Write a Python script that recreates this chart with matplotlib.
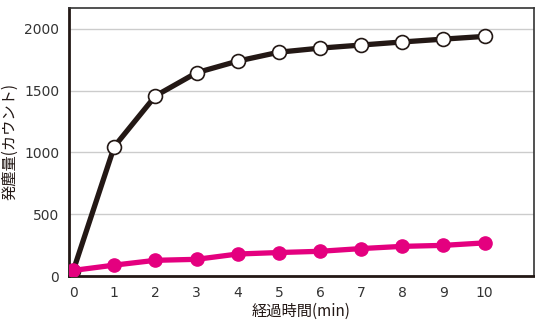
import matplotlib
matplotlib.use('Agg')
import matplotlib.pyplot as plt

plt.rcParams['font.family'] = ['Noto Sans CJK JP', 'DejaVu Sans']

# elapsed minutes and dust counts
minutes = [0, 1, 2, 3, 4, 5, 6, 7, 8, 9, 10]
black_counts = [40, 1048, 1458, 1646, 1740, 1812, 1845, 1870, 1895, 1918, 1940]
pink_counts = [45, 88, 127, 135, 178, 190, 200, 222, 240, 248, 268]
y_ticks = [0, 500, 1000, 1500, 2000]

fig = plt.figure(figsize=(5.35, 3.2), dpi=100)
ax = fig.add_axes([0.129, 0.1375, 0.869, 0.8375])

ax.plot(minutes, black_counts, color='#231815', lw=3.8, marker='o', ms=10,
        mfc='white', mec='#231815', mew=1.2, zorder=3)
ax.plot(minutes, pink_counts, color='#E4007F', lw=3.8, marker='o', ms=9.5,
        mfc='#E4007F', mec='#E4007F', zorder=4)

ax.set_xlim(-0.1, 11.2)
ax.set_ylim(0, 2170)
ax.set_xticks(minutes)
ax.set_yticks(y_ticks)
ax.tick_params(length=0, labelsize=10, colors='#333333', pad=7)
for lab in ax.get_xticklabels() + ax.get_yticklabels():
    lab.set_family('DejaVu Sans')
ax.yaxis.grid(True, color='#cccccc', lw=1)
ax.set_axisbelow(True)

for side in ['left', 'bottom']:
    ax.spines[side].set_linewidth(2)
    ax.spines[side].set_color('#231815')
for side in ['top', 'right']:
    ax.spines[side].set_linewidth(1.2)
    ax.spines[side].set_color('#333333')

ax.set_xlabel('経過時間(min)', fontsize=11, color='#231815', labelpad=2)
ax.set_ylabel('発塵量(カウント)', fontsize=11, color='#231815', labelpad=4)

fig.savefig('out.png', dpi=100)
